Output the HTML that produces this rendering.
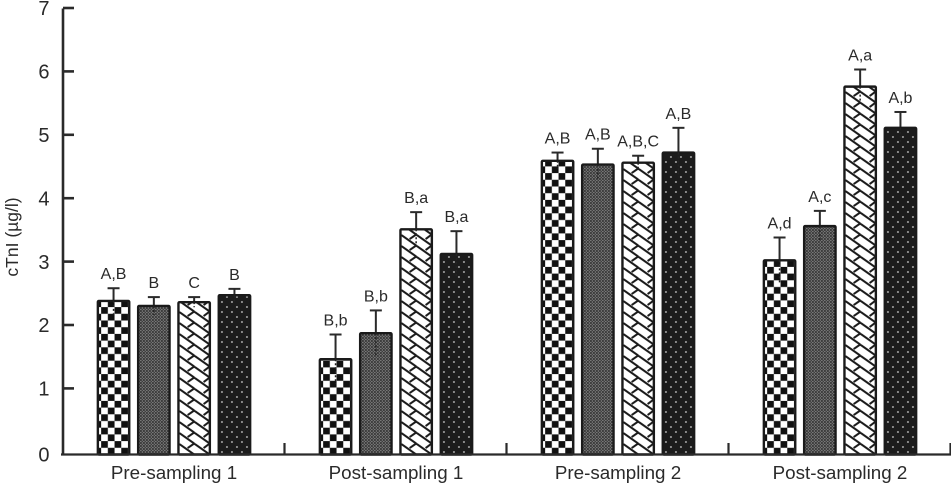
<!DOCTYPE html>
<html><head><meta charset="utf-8"><style>
html,body{margin:0;padding:0;background:#fff;width:951px;height:484px;overflow:hidden}
svg{display:block}
text{font-family:"Liberation Sans",Arial,sans-serif;fill:#2a2a2a}
</style></head><body>
<svg id="chart" width="951" height="484" viewBox="0 0 951 484" xmlns="http://www.w3.org/2000/svg">
<defs>
<pattern id="p0" patternUnits="userSpaceOnUse" width="13.4" height="13.4" x="1" y="0"><rect width="13.4" height="13.4" fill="#fff"/><rect width="6.7" height="6.7" fill="#111"/><rect x="6.7" y="6.7" width="6.7" height="6.7" fill="#111"/></pattern>
<pattern id="p1" patternUnits="userSpaceOnUse" width="3" height="3"><rect width="3" height="3" fill="#3e3e3e"/><rect x="0" y="0" width="1" height="1" fill="#a8a8a8"/><rect x="1.5" y="1.5" width="1" height="1" fill="#989898"/></pattern>
<pattern id="p2" patternUnits="userSpaceOnUse" width="31" height="11" x="-15.5" y="0"><rect width="31" height="11" fill="#fff"/><path d="M0,0 L15.5,11 M15.5,0 L31,11 M15.5,0 L9,4.6 M31,0 L25,4.6 M0,0 L-6,4.6 M15.5,11 L16.5,12 M31,11 L32,12" fill="none" stroke="#1a1a1a" stroke-width="2"/></pattern>
<pattern id="p3" patternUnits="userSpaceOnUse" width="10" height="10"><rect width="10" height="10" fill="#1c1c1c"/><circle cx="2.5" cy="2.5" r="1" fill="#a8a8a8"/><circle cx="7.5" cy="7.5" r="1" fill="#a8a8a8"/></pattern>
</defs>
<g id="plot"></g>
</svg>
<script>
var categories = ["Pre-sampling 1", "Post-sampling 1", "Pre-sampling 2", "Post-sampling 2"];
var seriesA = [2.38, 1.46, 4.59, 3.02];
var seriesB = [2.30, 1.87, 4.53, 3.56];
var seriesC = [2.36, 3.51, 4.56, 5.76];
var seriesD = [2.47, 3.12, 4.72, 5.11];
var errorA = [0.20, 0.39, 0.13, 0.36];
var errorB = [0.14, 0.36, 0.25, 0.24];
var errorC = [0.08, 0.27, 0.11, 0.27];
var errorD = [0.10, 0.36, 0.39, 0.25];
var lettersA = ["A,B", "B,b", "A,B", "A,d"];
var lettersB = ["B", "B,b", "A,B", "A,c"];
var lettersC = ["C", "B,a", "A,B,C", "A,a"];
var lettersD = ["B", "B,a", "A,B", "A,b"];
var yTicks = [0, 1, 2, 3, 4, 5, 6, 7];

var values = [seriesA, seriesB, seriesC, seriesD];
var errors = [errorA, errorB, errorC, errorD];
var letters = [lettersA, lettersB, lettersC, lettersD];
var NS = 'http://www.w3.org/2000/svg';
var plot = document.getElementById('plot');
var axisY = 454.5;
function yScale(v) { return 451.8 - v * 63.4; }
function groupCenter(g) { return 174 + g * 222; }
function barCenter(g, s) { return groupCenter(g) + (s - 1.5) * 40.3; }
function add(tag, attrs, parent) {
  var el = document.createElementNS(NS, tag);
  for (var k in attrs) el.setAttribute(k, attrs[k]);
  (parent || plot).appendChild(el);
  return el;
}
var stroke = '#2a2a2a';
var i, g, s;
for (g = 0; g < categories.length; g++) {
  for (s = 0; s < values.length; s++) {
    var v = values[s][g];
    var e = errors[s][g];
    var cx = barCenter(g, s);
    var barTop = yScale(v);
    var barGroup = add('g', {});
    
    
    var errLine = add('line', {x1: cx, x2: cx, y1: yScale(v + e), y2: barTop, stroke: stroke, 'stroke-width': 2}, barGroup);
    
    
    var cap = add('line', {x1: cx - 6, x2: cx + 6, y1: yScale(v + e), y2: yScale(v + e), stroke: stroke, 'stroke-width': 2}, barGroup);
    
    
    var bar = add('rect', {x: -15.7, y: barTop - axisY, width: 31.4, height: axisY - barTop, fill: 'url(#p' + s + ')', stroke: '#1a1a1a', 'stroke-width': 2.4, rx: 1, transform: 'translate(' + cx + ' ' + axisY + ')'}, barGroup);
    
    
    var lower = add('line', {x1: cx, x2: cx, y1: barTop, y2: yScale(v - e), stroke: '#222', 'stroke-width': 1.5, 'stroke-dasharray': '2 2'}, barGroup);
    
    
    var lab = add('text', {x: cx, y: yScale(v + e) - 9, 'text-anchor': 'middle', 'font-size': 16}, barGroup);
    lab.textContent = letters[s][g];
    
    
  }
  var cat = add('text', {x: groupCenter(g), y: 479, 'text-anchor': 'middle', 'font-size': 18.8});
  cat.textContent = categories[g];
  
  
  var sep = add('line', {x1: groupCenter(g) + 110.5, x2: groupCenter(g) + 110.5, y1: 443, y2: axisY, stroke: stroke, 'stroke-width': 2.2});
  
  
}
var xAxis = add('line', {x1: 61, x2: 951, y1: axisY, y2: axisY, stroke: stroke, 'stroke-width': 2.2});


var yAxis = add('line', {x1: 63, x2: 63, y1: 8.5, y2: 455.5, stroke: stroke, 'stroke-width': 2.6});


for (i = 0; i < yTicks.length; i++) {
  var ty = yScale(yTicks[i]);
  if (yTicks[i] > 0) {
    var tick = add('line', {x1: 63, x2: 74, y1: ty, y2: ty, stroke: stroke, 'stroke-width': 2.6});
    
    
  }
  var tl = add('text', {x: 49.5, y: (yTicks[i] > 0 ? ty : axisY) + 7.2, 'text-anchor': 'end', 'font-size': 20});
  tl.textContent = yTicks[i];
  
  
}
var yTitle = add('text', {x: 0, y: 0, 'text-anchor': 'middle', 'font-size': 17.5, transform: 'translate(18 237) rotate(-90)'});
yTitle.textContent = 'cTnI (µg/l)';


</script>
</body></html>
